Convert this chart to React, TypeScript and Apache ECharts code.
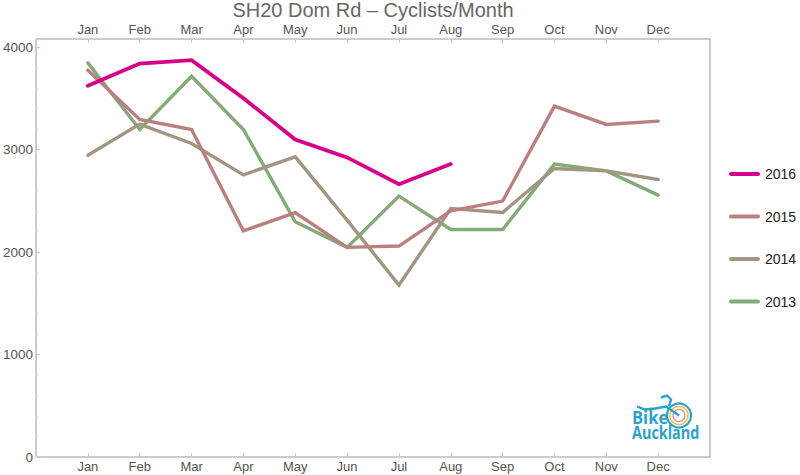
import React, { useEffect, useRef } from "react";
import * as echarts from "echarts";

const months = ["Jan", "Feb", "Mar", "Apr", "May", "Jun", "Jul", "Aug", "Sep", "Oct", "Nov", "Dec"];
const years = ["2016", "2015", "2014", "2013"];
const colors = ["#D5008A", "#BA8080", "#A29682", "#84AA7C"];
const v2016 = [3623, 3840, 3873, 3502, 3099, 2924, 2663, 2859];
const v2015 = [3776, 3295, 3197, 2208, 2384, 2046, 2059, 2403, 2498, 3424, 3246, 3278];
const v2014 = [2946, 3249, 3060, 2754, 2930, 2312, 1678, 2426, 2387, 2816, 2793, 2709];
const v2013 = [3847, 3197, 3717, 3197, 2296, 2046, 2546, 2221, 2221, 2859, 2793, 2556];
const yTicks = [0, 1000, 2000, 3000, 4000];

const allValues = [v2016, v2015, v2014, v2013];

export default function App() {
  const ref = useRef<HTMLDivElement>(null);
  useEffect(() => {
    if (!ref.current) return;
    const chart = echarts.init(ref.current, null, { renderer: "svg" });
    const font = "'Liberation Sans', 'Helvetica Neue', Arial, sans-serif";
    const xLabel = {
      color: "#555",
      fontSize: 13,
      fontFamily: font,
      formatter: (v: number) => (v >= 1 && v <= 12 ? months[v - 1] : ""),
    };
    const xCommon = {
      type: "value" as const,
      min: 0,
      max: 13,
      interval: 1,
      splitLine: { show: false },
      axisLine: { show: false },
      axisTick: { show: true, inside: true, length: 4, lineStyle: { color: "#ccc" } },
    };
    chart.setOption({
      animation: false,
      backgroundColor: "#fff",
      title: {
        text: "SH20 Dom Rd \u2013 Cyclists/Month",
        left: 373,
        textAlign: "center",
        top: 0,
        padding: 0,
        textStyle: { color: "#666", fontSize: 20, fontWeight: "normal", fontFamily: font },
      },
      legend: {
        orient: "vertical",
        left: 724,
        top: 162,
        itemGap: 28.5,
        itemWidth: 31,
        itemHeight: 14,
        icon: "path://M2,5 L29,5 A2,2 0 0 1 29,9 L2,9 A2,2 0 0 1 2,5 Z",
        textStyle: { color: "#222", fontSize: 14, fontFamily: font },
        data: years,
      },
      grid: { left: 35, right: 90, top: 39, bottom: 18, show: true, borderColor: "#999", borderWidth: 1 },
      xAxis: [
        { ...xCommon, position: "bottom", axisLabel: { ...xLabel, margin: 3 } },
        { ...xCommon, position: "top", axisLabel: { ...xLabel, margin: 3 } },
      ],
      yAxis: {
        type: "value",
        min: 0,
        max: 4080,
        interval: 1000,
        splitLine: { show: false },
        axisLine: { show: false },
        axisTick: { show: true, inside: true, length: 4, lineStyle: { color: "#ccc" } },
        minorTick: { show: true, splitNumber: 5, length: 2, lineStyle: { color: "#ddd" } },
        axisLabel: {
          color: "#555",
          fontSize: 13.5,
          fontFamily: font,
          margin: 3,
          formatter: (v: number) => (yTicks.includes(v) ? String(v) : ""),
        },
      },
      series: years
        .map((y, i) => ({
          name: y,
          type: "line",
          data: allValues[i].map((v, j) => [j + 1, v]),
          symbol: "none",
          lineStyle: { color: colors[i], width: i === 0 ? 3.8 : 3.4, cap: "round", join: "miter" },
          itemStyle: { color: colors[i] },
          z: 10 - i,
        }))
        .reverse(),
      graphic: [
        {
          type: "group",
          left: 632,
          top: 393,
          children: [
            { type: "circle", shape: { cx: 48, cy: 21, r: 9 }, style: { fill: "none", stroke: "#F0C040", lineWidth: 1.5 } },
            { type: "circle", shape: { cx: 48, cy: 21, r: 6 }, style: { fill: "none", stroke: "#E88AA8", lineWidth: 1.2 } },
            { type: "circle", shape: { cx: 48, cy: 21, r: 12 }, style: { fill: "none", stroke: "#2BA3C6", lineWidth: 2.2 } },
            { type: "polyline", shape: { points: [[6, 12], [14, 15], [24, 14], [35, 12], [48, 21]] }, style: { fill: "none", stroke: "#2BA3C6", lineWidth: 2.4 } },
            { type: "polyline", shape: { points: [[30, 3], [36, 1], [40, 5], [38, 12]] }, style: { fill: "none", stroke: "#2BA3C6", lineWidth: 2.4 } },
            { type: "text", x: 1, y: 14, scaleX: 0.92, style: { x: 0, y: 0, text: "Bike", fill: "#2BA3C6", font: "bold 18px 'Open Sans', sans-serif" } },
            { type: "text", x: 1, y: 29, scaleX: 0.8, style: { x: 0, y: 0, text: "Auckland", fill: "#2BA3C6", font: "bold 18px 'Open Sans', sans-serif" } },
          ],
        },
      ],
    });
    return () => chart.dispose();
  }, []);
  return <div ref={ref} style={{ width: 800, height: 475, position: "absolute", left: 0, top: 0 }} />;
}
